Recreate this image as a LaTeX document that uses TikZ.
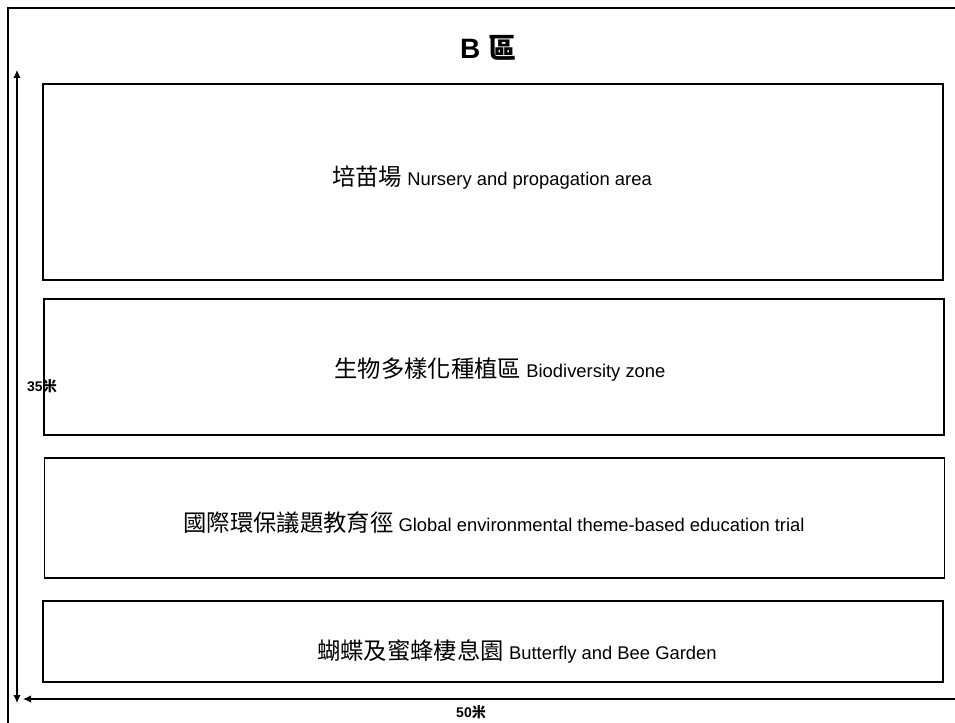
\documentclass[tikz,border=0pt]{standalone}
\usepackage{fontspec}
\setmainfont{Liberation Sans}
\newfontfamily\cjk{Noto Sans CJK TC}
\usetikzlibrary{arrows.meta, positioning}
\tikzset{
  zone/.style={draw, line width=1.1pt, rectangle, minimum width=675pt, inner sep=0pt},
  zonetext/.style={font=\fontsize{13.8}{16}\selectfont},
  dim/.style={line width=0.8pt, -{Latex[length=6pt,width=5.5pt]}},
  dimtext/.style={font=\fontsize{10.5}{12}\selectfont\bfseries}
}
\newcommand{\zh}[1]{{\cjk\fontsize{17.5}{20}\selectfont #1}}

\begin{document}
\begin{tikzpicture}[x=0.75pt, y=-0.75pt]
  \useasboundingbox (0,0) rectangle (955,723);
  % frame of the area
  \draw[line width=2pt] (8,723) -- (8,8) -- (955,8);
  \node[font=\fontsize{21}{24}\selectfont\bfseries] (title) at (488,48) {B {\cjk 區}};

  % zones
  \node[zone, minimum height=147pt] (nursery) at (493,182) {};
  \node[zone, minimum height=102pt] (biodiv) at (494,367) {};
  \node[zone, minimum height=90pt] (trail) at (494.5,518) {};
  \node[zone, minimum height=60.75pt] (garden) at (493,641.5) {};

  \node[zonetext] (nurserytxt) at (492,178) {\zh{培苗場} Nursery and propagation area};
  \node[zonetext] (biodivtxt) at (500,370) {\zh{生物多樣化種植區} Biodiversity zone};
  \node[zonetext] (trailtxt) at (494,523) {\zh{國際環保議題教育徑} Global environmental theme-based education trial};
  \node[zonetext] (gardentxt) at (517,651) {\zh{蝴蝶及蜜蜂棲息園} Butterfly and Bee Garden};

  % dimensions
  \coordinate (vtop) at (17,70);
  \coordinate (vbot) at (17,703);
  \coordinate (hleft) at (23,699);
  \coordinate (hright) at (955,699);
  \draw[dim, {Latex[length=6pt,width=5.5pt]}-{Latex[length=6pt,width=5.5pt]}] (vtop) -- (vbot);
  \draw[dim] (hright) -- (hleft);
  \node[dimtext] (height) at (42,386) {35{\cjk 米}};
  \node[dimtext] (width) at (471,712) {50{\cjk 米}};
\end{tikzpicture}
\end{document}
